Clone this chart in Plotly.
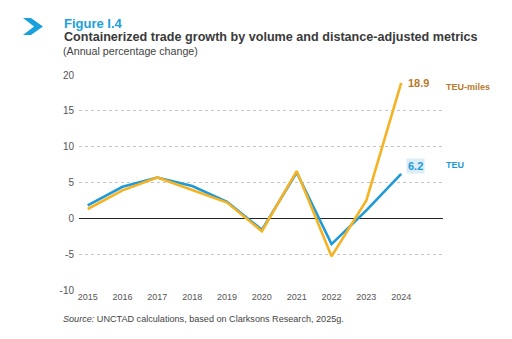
import plotly.graph_objects as go

years = [2015, 2016, 2017, 2018, 2019, 2020, 2021, 2022, 2023, 2024]
teu = [1.8, 4.4, 5.7, 4.5, 2.3, -1.6, 6.4, -3.6, 1.1, 6.2]
teu_miles = [1.3, 3.9, 5.7, 4.0, 2.2, -1.8, 6.6, -5.3, 2.5, 18.9]
y_ticks = [-10, -5, 0, 5, 10, 15, 20]
y_tick_text = ["-10", "-5", "0", "5", "10", "15", "20"]

BLUE = "#1f9ad6"
YELLOW = "#f5b324"
BROWN = "#b97a2e"
FONT = "Liberation Sans, Arial, sans-serif"

W, H = 512, 339
ML, MR, MT, MB = 79, 69, 75, 49
PW, PH = W - ML - MR, H - MT - MB

def px(x):
    return (x - ML) / PW

def py(y):
    return (H - MB - y) / PH

fig = go.Figure()
fig.add_trace(go.Scatter(x=years, y=teu, mode="lines", line=dict(color=BLUE, width=2.6),
                         name="TEU", hoverinfo="skip"))
fig.add_trace(go.Scatter(x=years, y=teu_miles, mode="lines", line=dict(color=YELLOW, width=2.6),
                         name="TEU-miles", hoverinfo="skip"))

# chevron icon
pts = [(23, 18), (31, 18), (43, 26.5), (31, 35), (23, 35), (34, 26.5)]
path = "M " + " L ".join(f"{px(a):.4f},{py(b):.4f}" for a, b in pts) + " Z"
fig.add_shape(type="path", path=path, xref="paper", yref="paper",
              fillcolor="#1aa0dc", line=dict(width=0))

ann = []
ann.append(dict(text="<b>Figure I.4</b>", x=px(62), y=py(23), font=dict(size=13, color="#1aa0dc")))
ann.append(dict(text="<b>Containerized trade growth by volume and distance-adjusted metrics</b>",
                x=px(62), y=py(37), font=dict(size=12.6, color="#3a3a3a")))
ann.append(dict(text="(Annual percentage change)", x=px(61), y=py(51),
                font=dict(size=10.7, color="#444444")))
ann.append(dict(text="<i>Source:</i> UNCTAD calculations, based on Clarksons Research, 2025g.",
                x=px(61), y=py(319), font=dict(size=9.1, color="#444444")))
for a in ann:
    a.update(xref="paper", yref="paper", xanchor="left", yanchor="middle", showarrow=False)
    fig.add_annotation(**a)

# end labels
fig.add_annotation(x=years[-1], y=teu_miles[-1], xref="x", yref="y", text=f"<b>{teu_miles[-1]}</b>",
                   showarrow=False, xanchor="left", yanchor="middle", xshift=5,
                   font=dict(size=11, color=BROWN, family=FONT))
fig.add_annotation(x=years[-1], y=teu[-1], xref="x", yref="y", text=f"<b>{teu[-1]}</b>",
                   showarrow=False, xanchor="left", yanchor="middle", xshift=5, yshift=8,
                   bgcolor="#dcedf8", borderpad=1,
                   font=dict(size=11, color=BLUE, family=FONT))
fig.add_annotation(x=px(444), y=py(87), xref="paper", yref="paper", text="<b>TEU-miles</b>",
                   showarrow=False, xanchor="left", yanchor="middle",
                   font=dict(size=9, color=BROWN, family=FONT))
fig.add_annotation(x=px(444), y=py(165), xref="paper", yref="paper", text="<b>TEU</b>",
                   showarrow=False, xanchor="left", yanchor="middle",
                   font=dict(size=9, color=BLUE, family=FONT))

fig.update_layout(
    width=W, height=H,
    margin=dict(l=ML, r=MR, t=MT, b=MB),
    paper_bgcolor="white", plot_bgcolor="white",
    showlegend=False,
    font=dict(family=FONT, color="#555555", size=10),
    xaxis=dict(range=[2014.75, 2025.2], tickvals=years, ticktext=[str(y) for y in years],
               showgrid=False, zeroline=False, showline=False, ticks="",
               tickfont=dict(size=9, color="#555555"), fixedrange=True),
    yaxis=dict(range=[-10, 20], tickvals=y_ticks, ticktext=y_tick_text, showgrid=True,
               gridcolor="#c4c4c4", griddash="dot", gridwidth=1, zeroline=True,
               zerolinecolor="#222222", zerolinewidth=1.3, showline=False, ticks="",
               ticklabelstandoff=4, tickfont=dict(size=10, color="#555555"), fixedrange=True),
)

fig.write_html("out.html")
